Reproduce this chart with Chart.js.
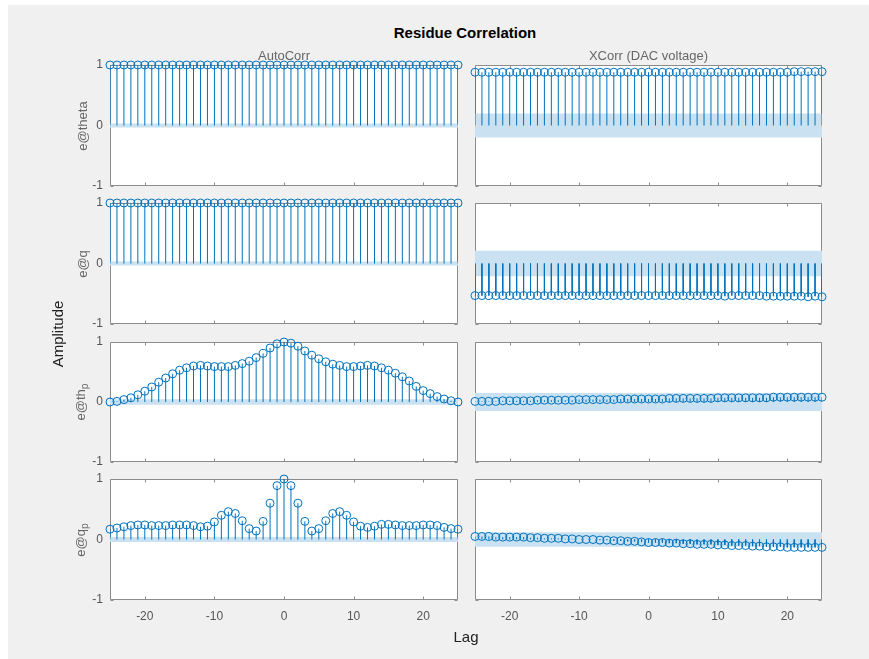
<!DOCTYPE html>
<html>
<head>
<meta charset="utf-8">
<script src="https://cdn.jsdelivr.net/npm/chart.js@4/dist/chart.umd.min.js"></script>
<style>
  html, body { margin: 0; padding: 0; background: #ffffff; }
  #fig { position: absolute; left: 8px; top: 5px; width: 861px; height: 654px; background: #f0f0f0; }
  #stage { position: absolute; left: 0; top: 0; width: 869px; height: 659px; }
  #stage canvas { position: absolute; }
  .txt { position: absolute; white-space: nowrap; font-family: "Liberation Sans", Arial, sans-serif;
         transform: translate(-50%, -50%); line-height: 1; }
  .rot { transform: translate(-50%, -50%) rotate(-90deg); }
  .txt sub { font-size: 0.8em; vertical-align: -0.3em; }
</style>
</head>
<body>
<div id="fig"></div>
<div id="stage"></div>

<script>
// Lags shared by every panel
const lags = [-25, -24, -23, -22, -21, -20, -19, -18, -17, -16,
              -15, -14, -13, -12, -11, -10, -9, -8, -7, -6,
              -5, -4, -3, -2, -1, 0, 1, 2, 3, 4,
              5, 6, 7, 8, 9, 10, 11, 12, 13, 14,
              15, 16, 17, 18, 19, 20, 21, 22, 23, 24,
              25];

const xTickValues = [-20, -10, 0, 10, 20];
const yTickValues = [-1, 0, 1];

const rowLabels = ['e@theta', 'e@q', 'e@th<sub>p</sub>', 'e@q<sub>p</sub>'];
const colTitles = ['AutoCorr', 'XCorr (DAC voltage)'];

// Autocorrelation of each residue channel
const autoTheta = [1, 1, 1, 1, 1, 1, 1, 1, 1, 1,
                   1, 1, 1, 1, 1, 1, 1, 1, 1, 1,
                   1, 1, 1, 1, 1, 1, 1, 1, 1, 1,
                   1, 1, 1, 1, 1, 1, 1, 1, 1, 1,
                   1, 1, 1, 1, 1, 1, 1, 1, 1, 1,
                   1];
const autoQ = [1, 1, 1, 1, 1, 1, 1, 1, 1, 1,
               1, 1, 1, 1, 1, 1, 1, 1, 1, 1,
               1, 1, 1, 1, 1, 1, 1, 1, 1, 1,
               1, 1, 1, 1, 1, 1, 1, 1, 1, 1,
               1, 1, 1, 1, 1, 1, 1, 1, 1, 1,
               1];
const autoThp = [0.00, 0.01, 0.04, 0.07, 0.12, 0.18, 0.25, 0.33, 0.40, 0.47,
                 0.53, 0.57, 0.60, 0.61, 0.60, 0.59, 0.59, 0.59, 0.61, 0.64,
                 0.68, 0.74, 0.81, 0.90, 0.97, 1.00, 0.98, 0.93, 0.85, 0.78,
                 0.72, 0.67, 0.63, 0.61, 0.59, 0.59, 0.60, 0.61, 0.60, 0.57,
                 0.53, 0.48, 0.42, 0.35, 0.26, 0.19, 0.14, 0.09, 0.05, 0.02,
                 0.00];
const autoQp = [0.17, 0.19, 0.21, 0.23, 0.24, 0.24, 0.23, 0.23, 0.23, 0.24,
                0.24, 0.24, 0.23, 0.21, 0.22, 0.29, 0.40, 0.46, 0.43, 0.31,
                0.18, 0.14, 0.30, 0.60, 0.89, 1.00, 0.89, 0.60, 0.30, 0.14,
                0.18, 0.31, 0.43, 0.46, 0.40, 0.29, 0.22, 0.20, 0.22, 0.25,
                0.25, 0.24, 0.23, 0.23, 0.23, 0.24, 0.24, 0.23, 0.20, 0.18,
                0.17];

// Cross-correlation with the DAC voltage input
const xcorrTheta = [0.88, 0.88, 0.88, 0.88, 0.88, 0.88, 0.88, 0.88, 0.88, 0.88,
                    0.88, 0.88, 0.88, 0.88, 0.88, 0.88, 0.88, 0.88, 0.88, 0.88,
                    0.88, 0.88, 0.88, 0.88, 0.88, 0.88, 0.88, 0.88, 0.88, 0.88,
                    0.88, 0.88, 0.88, 0.88, 0.88, 0.88, 0.88, 0.88, 0.88, 0.88,
                    0.88, 0.88, 0.88, 0.88, 0.88, 0.88, 0.89, 0.89, 0.89, 0.89,
                    0.89];
const xcorrQ = [-0.53, -0.53, -0.53, -0.53, -0.53, -0.53, -0.53, -0.53, -0.53, -0.53,
                -0.53, -0.53, -0.53, -0.53, -0.53, -0.53, -0.53, -0.53, -0.53, -0.53,
                -0.53, -0.53, -0.53, -0.53, -0.53, -0.53, -0.53, -0.53, -0.53, -0.53,
                -0.53, -0.53, -0.53, -0.53, -0.53, -0.53, -0.54, -0.53, -0.53, -0.53,
                -0.53, -0.53, -0.54, -0.54, -0.54, -0.54, -0.54, -0.54, -0.55, -0.54,
                -0.55];
const xcorrThp = [0.01, 0.01, 0.01, 0.01, 0.02, 0.02, 0.02, 0.02, 0.02, 0.03,
                  0.03, 0.03, 0.03, 0.03, 0.03, 0.04, 0.04, 0.04, 0.04, 0.04,
                  0.04, 0.05, 0.05, 0.05, 0.05, 0.05, 0.05, 0.05, 0.06, 0.06,
                  0.06, 0.06, 0.06, 0.06, 0.06, 0.07, 0.07, 0.07, 0.07, 0.07,
                  0.07, 0.07, 0.07, 0.08, 0.08, 0.08, 0.08, 0.08, 0.08, 0.08,
                  0.08];
const xcorrQp = [0.05, 0.05, 0.05, 0.04, 0.04, 0.04, 0.04, 0.04, 0.03, 0.03,
                 0.02, 0.02, 0.02, 0.01, 0.01, 0.00, 0.00, 0.00, -0.01, -0.01,
                 -0.02, -0.02, -0.03, -0.03, -0.04, -0.05, -0.05, -0.05, -0.06, -0.06,
                 -0.07, -0.07, -0.08, -0.08, -0.08, -0.09, -0.09, -0.10, -0.10, -0.10,
                 -0.11, -0.11, -0.12, -0.12, -0.12, -0.13, -0.13, -0.13, -0.13, -0.13,
                 -0.13];

// 99% confidence half-widths around zero
const autoBand = [0.035, 0.035, 0.045, 0.04];
const xcorrBand = [0.20, 0.21, 0.15, 0.12];

const series = [
  [autoTheta, xcorrTheta],
  [autoQ, xcorrQ],
  [autoThp, xcorrThp],
  [autoQp, xcorrQp]
];
const bands = [
  [autoBand[0], xcorrBand[0]],
  [autoBand[1], xcorrBand[1]],
  [autoBand[2], xcorrBand[2]],
  [autoBand[3], xcorrBand[3]]
];

// ---- layout of the 4x2 axes grid (page pixels) ----
const colBox = [{ left: 110, right: 458 }, { left: 475, right: 822 }];
const rowBox = [{ top: 65, bottom: 186 }, { top: 203, bottom: 324 },
                { top: 342, bottom: 462 }, { top: 479, bottom: 600 }];

const STEM = '#0072BD';
const BAND = 'rgb(202,225,241)';
const TICK_COLOR = '#555555';
const FONT = '"Liberation Sans", Arial, sans-serif';

Chart.defaults.font.family = FONT;

// White plot box, frame and inward tick marks, drawn under the stems
const framePlugin = {
  id: 'axesFrame',
  beforeDatasetsDraw(chart) {
    const { ctx, chartArea: a, scales } = chart;
    const l = Math.round(a.left) + 0.5, r = Math.round(a.right) - 0.5;
    const t = Math.round(a.top) + 0.5, b = Math.round(a.bottom) - 0.5;
    ctx.save();
    ctx.fillStyle = '#ffffff';
    ctx.fillRect(a.left, a.top, a.right - a.left, a.bottom - a.top);
    ctx.strokeStyle = '#8c8c8c';
    ctx.lineWidth = 1;
    ctx.beginPath();
    ctx.rect(l, t, r - l, b - t);
    xTickValues.forEach(v => {
      const px = Math.round(scales.x.getPixelForValue(v)) + 0.5;
      ctx.moveTo(px, b); ctx.lineTo(px, b - 3);
      ctx.moveTo(px, t); ctx.lineTo(px, t + 3);
    });
    yTickValues.forEach(v => {
      const py = Math.round(scales.y.getPixelForValue(v)) + 0.5;
      ctx.moveTo(l, py); ctx.lineTo(l + 3, py);
      ctx.moveTo(r, py); ctx.lineTo(r - 3, py);
    });
    ctx.stroke();
    ctx.restore();
  }
};

const stage = document.getElementById('stage');
// margins around each plot box inside its canvas (room for labels and markers)
const L = 50, R = 8, T = 18;

rowBox.forEach((row, ri) => {
  colBox.forEach((col, ci) => {
    const isBottom = ri === rowBox.length - 1;
    const B = isBottom ? 32 : 18;
    const w = col.right - col.left + L + R;
    const h = row.bottom - row.top + T + B;
    const cv = document.createElement('canvas');
    cv.width = w; cv.height = h;
    cv.style.left = (col.left - L) + 'px';
    cv.style.top = (row.top - T) + 'px';
    cv.style.width = w + 'px';
    cv.style.height = h + 'px';
    stage.appendChild(cv);

    const vals = series[ri][ci];
    const c = bands[ri][ci];
    const stemPts = lags.flatMap((x, i) => [{ x, y: 0 }, { x, y: vals[i] }, { x, y: null }]);
    const markPts = lags.map((x, i) => ({ x, y: vals[i] }));

    new Chart(cv, {
      type: 'line',
      data: {
        datasets: [
          {
            data: markPts, showLine: false, order: 1, clip: false,
            pointStyle: 'circle', pointRadius: 4, pointBorderWidth: 1,
            pointBorderColor: STEM, pointBackgroundColor: 'rgba(0,0,0,0)'
          },
          {
            data: stemPts, order: 2, spanGaps: false, tension: 0,
            borderColor: STEM, borderWidth: 1, pointRadius: 0, fill: false
          },
          {
            data: [{ x: -25, y: c }, { x: 25, y: c }], order: 3, tension: 0,
            borderWidth: 0, borderColor: 'rgba(0,0,0,0)', pointRadius: 0,
            backgroundColor: BAND, fill: { value: -c }
          }
        ]
      },
      options: {
        responsive: false,
        animation: false,
        devicePixelRatio: 1,
        events: [],
        layout: { padding: { left: 0, right: R, top: T, bottom: 0 } },
        plugins: { legend: { display: false }, tooltip: { enabled: false }, title: { display: false } },
        scales: {
          x: {
            type: 'linear', min: -25, max: 25,
            grid: { display: false, drawTicks: false },
            border: { display: false },
            afterBuildTicks: s => { s.ticks = xTickValues.map(v => ({ value: v })); },
            afterFit: s => { s.height = B; },
            ticks: { display: isBottom, padding: 9, color: TICK_COLOR, font: { size: 12 } }
          },
          y: {
            type: 'linear', min: -1, max: 1,
            grid: { display: false, drawTicks: false },
            border: { display: false },
            afterBuildTicks: s => { s.ticks = yTickValues.map(v => ({ value: v })); },
            afterFit: s => { s.width = L; },
            ticks: { display: ci === 0, padding: 7, color: TICK_COLOR, font: { size: 12 } }
          }
        }
      },
      plugins: [framePlugin]
    });
  });
});

// ---- figure text ----
function addText(html, x, y, css, rotate) {
  const d = document.createElement('div');
  d.className = 'txt' + (rotate ? ' rot' : '');
  d.innerHTML = html;
  d.style.left = x + 'px';
  d.style.top = y + 'px';
  Object.assign(d.style, css);
  stage.appendChild(d);
}

addText('Residue Correlation', 465, 32, { fontSize: '15px', fontWeight: 'bold', color: '#000' });
colTitles.forEach((t, ci) => {
  const cx = (colBox[ci].left + colBox[ci].right) / 2;
  addText(t, cx, 55, { fontSize: '13px', color: '#666' });
});
rowLabels.forEach((t, ri) => {
  const cy = (rowBox[ri].top + rowBox[ri].bottom) / 2;
  addText(t, 82, cy, { fontSize: '13px', color: '#666' }, true);
});
addText('Amplitude', 57, 334, { fontSize: '15px', color: '#222' }, true);
addText('Lag', 466, 636, { fontSize: '15px', color: '#222' });
</script>
</body>
</html>
